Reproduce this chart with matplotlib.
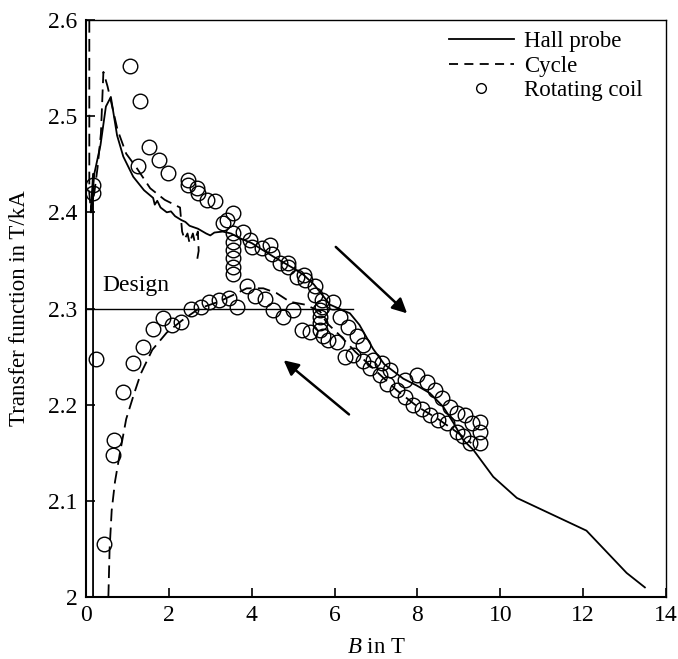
import numpy as np
import matplotlib
matplotlib.use("Agg")
import matplotlib.pyplot as plt
from matplotlib.lines import Line2D

plt.rcParams['font.family'] = ['Liberation Serif', 'DejaVu Serif']
plt.rcParams['mathtext.fontset'] = 'custom'
plt.rcParams['mathtext.it'] = 'Liberation Serif:italic'
plt.rcParams['mathtext.rm'] = 'Liberation Serif'

# ---------------- data ----------------
hall_B = [0.17, 0.17, 0.12, 0.20, 0.35, 0.48, 0.60, 0.75, 0.90, 1.14, 1.40, 1.62, 1.66, 1.72,
          1.80, 1.95, 2.05, 2.15, 2.30, 2.40, 2.50, 2.70, 2.90, 3.00, 3.10, 3.30, 3.50, 3.72,
          4.00, 4.52, 5.00, 5.25, 5.50, 5.65, 5.89, 6.10, 6.37, 6.60, 6.93, 7.20, 7.66, 7.98,
          8.30, 8.62, 8.87, 9.11, 9.35, 9.83, 10.40, 12.08, 13.05, 13.49]
hall_T = [2.000, 2.440, 2.400, 2.440, 2.470, 2.510, 2.520, 2.480, 2.458, 2.437, 2.423, 2.415,
          2.408, 2.412, 2.405, 2.400, 2.401, 2.396, 2.392, 2.390, 2.386, 2.383, 2.378, 2.376,
          2.379, 2.380, 2.378, 2.373, 2.368, 2.354, 2.342, 2.335, 2.325, 2.317, 2.304, 2.300,
          2.295, 2.283, 2.258, 2.242, 2.227, 2.220, 2.212, 2.198, 2.181, 2.163, 2.153, 2.125,
          2.103, 2.069, 2.025, 2.010]

cycle_up_B = [0.08, 0.08, 0.12, 0.20, 0.28, 0.36, 0.42, 0.52, 0.76, 0.97, 1.21, 1.55, 1.90,
              2.27, 2.32, 2.38, 2.45, 2.50, 2.58, 2.62, 2.70, 2.72, 2.68]
cycle_up_T = [2.600, 2.420, 2.400, 2.420, 2.447, 2.482, 2.546, 2.531, 2.486, 2.461, 2.447,
              2.425, 2.413, 2.405, 2.380, 2.372, 2.378, 2.368, 2.378, 2.370, 2.380, 2.360, 2.350]

cycle_dn_B = [0.54, 0.57, 0.62, 0.70, 0.82, 0.97, 1.15, 1.32, 1.60, 1.95, 2.33, 2.73, 3.20,
              3.60, 3.88, 4.28, 4.60, 4.92, 5.29, 5.65, 5.81, 6.13, 6.50, 7.00, 7.50, 8.00,
              8.50, 9.00, 9.30]
cycle_dn_T = [2.000, 2.050, 2.090, 2.120, 2.150, 2.185, 2.210, 2.232, 2.257, 2.275, 2.288,
              2.300, 2.307, 2.315, 2.321, 2.321, 2.316, 2.307, 2.304, 2.297, 2.285, 2.272,
              2.255, 2.235, 2.215, 2.198, 2.185, 2.170, 2.160]

coil_B = [0.18, 0.18, 0.24, 0.44, 0.66, 0.68, 0.90, 1.14, 1.38, 1.61, 1.85, 2.08, 2.29, 2.53,
          2.78, 2.98, 3.22, 3.44, 3.64,
          1.06, 1.30, 1.26, 1.53, 1.76, 1.99, 2.47, 2.47, 2.67, 2.71, 2.91, 3.11, 3.31, 3.40,
          3.56, 3.56, 3.56, 3.56, 3.56, 3.56, 3.56, 3.80, 3.96, 4.00, 4.24, 4.44, 4.48, 4.68,
          4.88, 4.88, 5.09, 5.25, 5.29, 5.53, 5.53, 5.69, 5.69, 5.65, 5.65, 5.65, 5.65, 5.97,
          3.88, 4.08, 4.32, 4.52, 4.76, 5.00, 5.21, 5.41, 5.73, 5.85, 6.05, 6.13, 6.33, 6.53,
          6.69, 6.25, 6.45, 6.69, 6.93, 7.14,
          6.86, 7.10, 7.34, 7.26, 7.50, 7.70, 7.70, 7.98, 7.90, 8.22, 8.10, 8.42, 8.30, 8.59,
          8.50, 8.79, 8.71, 8.95, 8.95, 9.15, 9.11, 9.31, 9.27, 9.51, 9.51, 9.51]
coil_T = [2.428, 2.420, 2.248, 2.055, 2.148, 2.163, 2.213, 2.243, 2.260, 2.279, 2.290, 2.283,
          2.286, 2.299, 2.302, 2.307, 2.309, 2.311, 2.302,
          2.552, 2.516, 2.448, 2.468, 2.454, 2.441, 2.434, 2.428, 2.425, 2.420, 2.413, 2.412,
          2.389, 2.392, 2.399, 2.378, 2.369, 2.361, 2.352, 2.343, 2.336, 2.380, 2.371, 2.364,
          2.363, 2.366, 2.357, 2.347, 2.347, 2.343, 2.333, 2.335, 2.330, 2.323, 2.314, 2.309,
          2.302, 2.298, 2.291, 2.285, 2.278, 2.307,
          2.323, 2.313, 2.310, 2.298, 2.291, 2.298, 2.278, 2.276, 2.271, 2.267, 2.265, 2.291,
          2.281, 2.271, 2.262, 2.250, 2.252, 2.245, 2.246, 2.243,
          2.238, 2.231, 2.236, 2.222, 2.215, 2.226, 2.208, 2.231, 2.200, 2.224, 2.196, 2.215,
          2.189, 2.207, 2.184, 2.198, 2.181, 2.191, 2.172, 2.189, 2.167, 2.181, 2.160, 2.182,
          2.172, 2.160]

design_B = [0.0, 6.45]
design_T = [2.30, 2.30]

x_ticks = [0, 2, 4, 6, 8, 10, 12, 14]
y_ticks = [2.0, 2.1, 2.2, 2.3, 2.4, 2.5, 2.6]
y_ticklabels = ['2', '2.1', '2.2', '2.3', '2.4', '2.5', '2.6']

# ---------------- figure ----------------
fig = plt.figure(figsize=(6.78, 6.59), dpi=100)
ax = fig.add_axes([86/678, 1-597/659, 580/678, 577/659])

lw = 1.3
dash = (0, (7, 3.5))
ax.plot(design_B, design_T, color='black', lw=1.0)
ax.plot(hall_B, hall_T, color='black', lw=lw)
ax.plot(cycle_up_B, cycle_up_T, color='black', lw=lw, ls=dash)
ax.plot(cycle_dn_B, cycle_dn_T, color='black', lw=lw, ls=dash)
ax.plot(coil_B, coil_T, ls='none', marker='o', ms=10.5, mfc='none', mec='black', mew=1.0)

ax.text(0.39, 2.324, 'Design', fontsize=17, va='center', ha='left')

ax.annotate('', xy=(7.8, 2.293), xytext=(5.98, 2.366),
            arrowprops=dict(arrowstyle='-|>', color='black', lw=1.8, mutation_scale=22))
ax.annotate('', xy=(4.72, 2.248), xytext=(6.4, 2.188),
            arrowprops=dict(arrowstyle='-|>', color='black', lw=1.8, mutation_scale=22))

ax.set_xlim(0, 14)
ax.set_ylim(2.0, 2.6)
ax.set_xticks(x_ticks)
ax.set_xticklabels([str(v) for v in x_ticks])
ax.set_yticks(y_ticks)
ax.set_yticklabels(y_ticklabels)
ax.tick_params(direction='in', length=6.5, width=1.2, labelsize=17, top=False, right=False, pad=6)
for s in ['left', 'bottom']:
    ax.spines[s].set_linewidth(1.5)
for s in ['top', 'right']:
    ax.spines[s].set_linewidth(1.0)

ax.set_xlabel(r'$B$ in T', fontsize=16.5, labelpad=8)
ax.set_ylabel('Transfer function in T/kA', fontsize=16.5, labelpad=13)

handles = [Line2D([], [], color='black', lw=lw),
           Line2D([], [], color='black', lw=lw, ls=(0, (5, 3.5))),
           Line2D([], [], color='none', marker='o', ms=7, mfc='none', mec='black', mew=1.0)]
ax.legend(handles, ['Hall probe', 'Cycle', 'Rotating coil'], loc='upper right',
          bbox_to_anchor=(1 - 14/580, 1 - 2/577),
          frameon=False, fontsize=16.5, handlelength=2.85, handletextpad=0.45,
          labelspacing=0.15, borderaxespad=0.0)

fig.savefig('out.png', dpi=100)
